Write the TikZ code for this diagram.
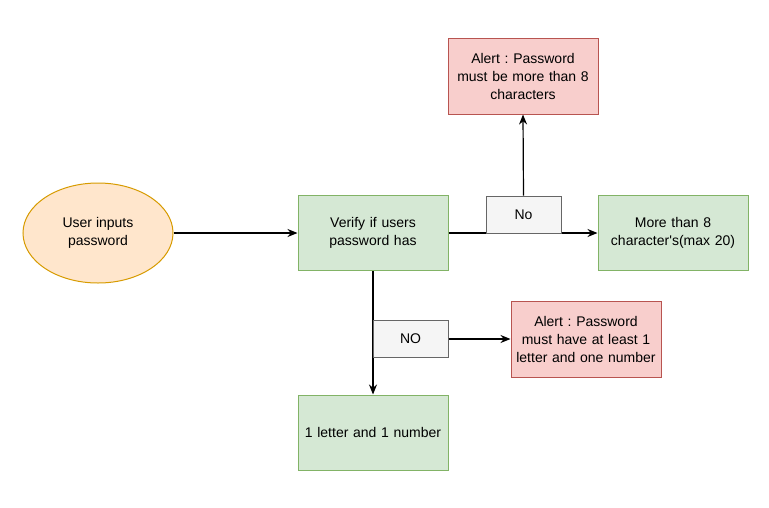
\documentclass[tikz,border=0pt]{standalone}
\usepackage{fontspec}
\setmainfont{Liberation Sans}
\usetikzlibrary{shapes.geometric,arrows.meta}
\definecolor{gfill}{HTML}{D5E8D4}
\definecolor{gline}{HTML}{82B366}
\definecolor{rfill}{HTML}{F8CECC}
\definecolor{rline}{HTML}{B85450}
\definecolor{ofill}{HTML}{FFE6CC}
\definecolor{oline}{HTML}{D79B00}
\definecolor{lfill}{HTML}{F5F5F5}
\definecolor{lline}{HTML}{666666}
\frenchspacing
\tikzset{
  base/.style={draw, line width=1pt, align=center, inner sep=0pt, font=\fontsize{14}{18}\selectfont},
  greenbox/.style={base, fill=gfill, draw=gline, minimum width=150pt, minimum height=75pt, text width=148pt},
  redbox/.style={base, fill=rfill, draw=rline, minimum width=150pt, minimum height=76pt, text width=148pt},
  orangeell/.style={base, ellipse, fill=ofill, draw=oline, minimum width=150pt, minimum height=100pt},
  labelbox/.style={base, fill=lfill, draw=lline, minimum width=75pt, minimum height=37pt},
  conn/.style={line width=1.2pt, -{Stealth[length=10pt,width=8pt]}}
}
\begin{document}
\begin{tikzpicture}[x=1pt,y=-1pt]
\useasboundingbox (0,0) rectangle (769,507);
\node[orangeell] (user) at (98,233) {User inputs\\password};
\node[greenbox] (verify) at (373,233) {Verify if users\\password has};
\node[greenbox] (more) at (673,233) {More than 8\\character\textquotesingle s(max 20)};
\node[redbox] (alert1) at (523,76) {Alert : Password\\must be more than 8\\characters};
\node[redbox] (alert2) at (586,339) {Alert : Password\\must have at least 1\\letter and one number};
\node[greenbox] (letter) at (373,432.5) {1 letter and 1 number};
\draw[conn] (user.east) -- (verify.west);
\draw[conn] (verify.east) -- (more.west);
\draw[conn] (verify.south) -- (letter.north);
\node[labelbox] (no1) at (523.5,214.5) {No};
\node[labelbox] (no2) at (410.5,339) {NO};
\draw[conn] (no1.north) -- (alert1.south);
\draw[conn] (no2.east) -- (no2.east -| alert2.west);
\end{tikzpicture}
\end{document}
